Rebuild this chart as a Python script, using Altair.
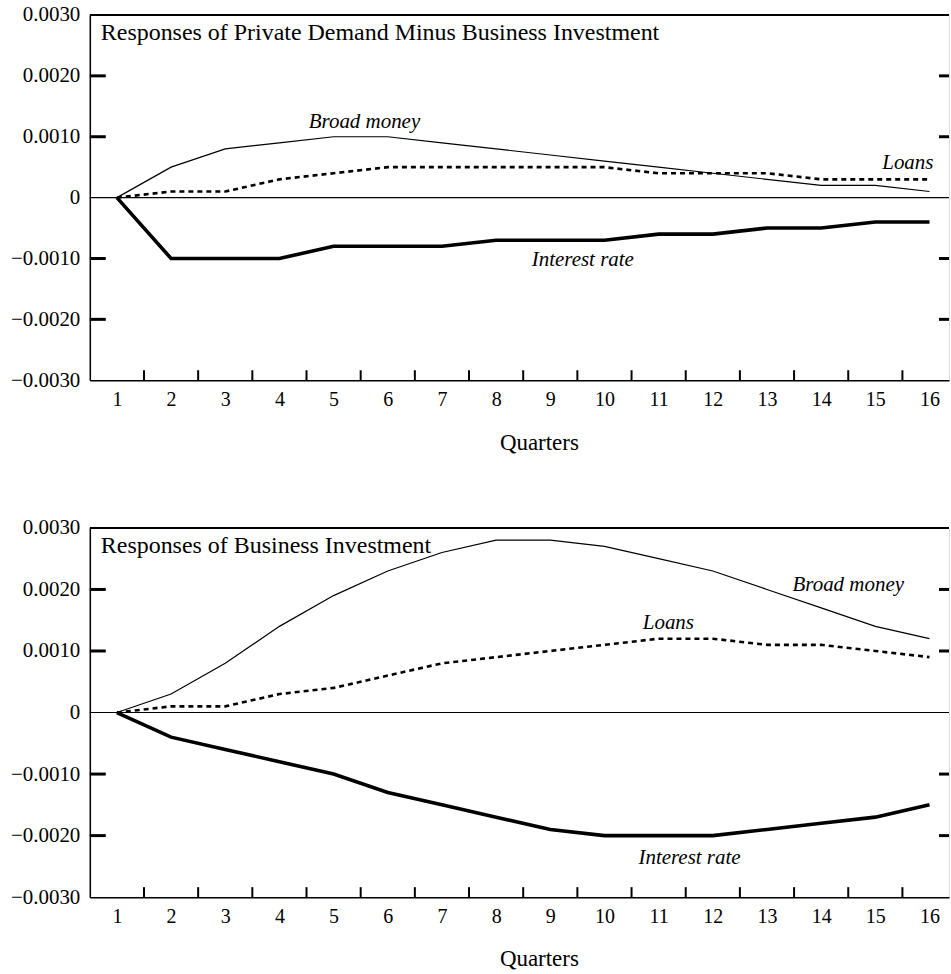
import altair as alt
import pandas as pd

quarters = list(range(1, 17))

# Responses of private demand minus business investment
pd_broad_money = [0.0, 0.0005, 0.0008, 0.0009, 0.0010, 0.0010, 0.0009, 0.0008,
                  0.0007, 0.0006, 0.0005, 0.0004, 0.0003, 0.0002, 0.0002, 0.0001]
pd_loans = [0.0, 0.0001, 0.0001, 0.0003, 0.0004, 0.0005, 0.0005, 0.0005,
            0.0005, 0.0005, 0.0004, 0.0004, 0.0004, 0.0003, 0.0003, 0.0003]
pd_interest = [0.0, -0.0010, -0.0010, -0.0010, -0.0008, -0.0008, -0.0008, -0.0007,
               -0.0007, -0.0007, -0.0006, -0.0006, -0.0005, -0.0005, -0.0004, -0.0004]

# Responses of business investment
bi_broad_money = [0.0, 0.0003, 0.0008, 0.0014, 0.0019, 0.0023, 0.0026, 0.0028,
                  0.0028, 0.0027, 0.0025, 0.0023, 0.0020, 0.0017, 0.0014, 0.0012]
bi_loans = [0.0, 0.0001, 0.0001, 0.0003, 0.0004, 0.0006, 0.0008, 0.0009,
            0.0010, 0.0011, 0.0012, 0.0012, 0.0011, 0.0011, 0.0010, 0.0009]
bi_interest = [0.0, -0.0004, -0.0006, -0.0008, -0.0010, -0.0013, -0.0015, -0.0017,
               -0.0019, -0.0020, -0.0020, -0.0020, -0.0019, -0.0018, -0.0017, -0.0015]

series_names = ["Broad money", "Loans", "Interest rate"]

# Series label placement: (text, quarter, value)
pd_labels = [("Broad money", 5.57, 0.00125), ("Loans", 15.6, 0.00057),
             ("Interest rate", 9.6, -0.00102)]
bi_labels = [("Broad money", 14.5, 0.00208), ("Loans", 11.18, 0.00146),
             ("Interest rate", 11.57, -0.00236)]

y_ticks = [-0.003, -0.002, -0.001, 0.0, 0.001, 0.002, 0.003]
inner_y_ticks = [-0.002, -0.001, 0.001, 0.002]
x_ticks_between = [q + 0.5 for q in quarters[:-1]]

FONT = "Liberation Serif"
W = 861
X_DOMAIN = [0.5, 16.36]
Y_DOMAIN = [-0.003, 0.003]


def panel(title, broad, loans, interest, labels, height):
    frame = pd.DataFrame({
        "quarter": quarters * 3,
        "value": broad + loans + interest,
        "series": [s for s in series_names for _ in quarters],
    })
    x_scale = alt.Scale(domain=X_DOMAIN, nice=False, zero=False)
    y_scale = alt.Scale(domain=Y_DOMAIN, nice=False)

    x_axis = alt.Axis(values=quarters, format="d", ticks=False, grid=False,
                      labelPadding=9, labelFont=FONT, labelFontSize=20,
                      labelColor="black", domainColor="black", domainWidth=1.5,
                      title="Quarters", titleFont=FONT, titleFontSize=23,
                      titleFontWeight="normal", titleColor="black",
                      titlePadding=22, titleX=450)
    y_axis = alt.Axis(values=y_ticks, ticks=False, grid=False, labelPadding=10,
                      labelFont=FONT, labelFontSize=21, labelColor="black",
                      domainColor="black", domainWidth=1.5, title=None,
                      labelExpr="datum.value == 0 ? '0' : replace(format(datum.value, '.4f'), '-', '\u2013')")

    base = alt.Chart(frame)

    def series_line(name, width, dash=None):
        props = dict(color="black", strokeWidth=width, clip=True)
        if dash:
            props["strokeDash"] = dash
        return base.transform_filter(alt.datum.series == name).mark_line(**props).encode(
            x=alt.X("quarter:Q", scale=x_scale, axis=x_axis),
            y=alt.Y("value:Q", scale=y_scale, axis=y_axis),
        )

    zero = alt.Chart(pd.DataFrame({"v": [0.0]})).mark_rule(color="black", strokeWidth=1.2).encode(
        y=alt.Y("v:Q", scale=y_scale), x=alt.value(0), x2=alt.value(W))
    top = alt.Chart(pd.DataFrame({"v": [0.003]})).mark_rule(color="black", strokeWidth=2).encode(
        y=alt.Y("v:Q", scale=y_scale), x=alt.value(0), x2=alt.value(W))

    ytick_df = pd.DataFrame({"v": inner_y_ticks})
    left_ticks = alt.Chart(ytick_df).mark_rule(color="black", strokeWidth=3).encode(
        y=alt.Y("v:Q", scale=y_scale), x=alt.value(0), x2=alt.value(16))
    right_ticks = alt.Chart(ytick_df).mark_rule(color="black", strokeWidth=3).encode(
        y=alt.Y("v:Q", scale=y_scale), x=alt.value(W - 10), x2=alt.value(W))
    x_tick_marks = alt.Chart(pd.DataFrame({"q": x_ticks_between})).mark_rule(
        color="black", strokeWidth=2).encode(
        x=alt.X("q:Q", scale=x_scale), y=alt.value(height), y2=alt.value(height - 10))

    label_df = pd.DataFrame(labels, columns=["text", "quarter", "value"])
    series_text = alt.Chart(label_df).mark_text(
        font=FONT, fontSize=21, fontStyle="italic", color="black").encode(
        x=alt.X("quarter:Q", scale=x_scale), y=alt.Y("value:Q", scale=y_scale), text="text:N")

    heading = alt.Chart(pd.DataFrame({"t": [title]})).mark_text(
        font=FONT, fontSize=24, color="black", align="left", baseline="middle").encode(
        x=alt.value(11), y=alt.value(18), text="t:N")

    return alt.layer(
        zero, top, left_ticks, right_ticks, x_tick_marks,
        series_line("Broad money", 1.2),
        series_line("Loans", 2.6, [5, 4]),
        series_line("Interest rate", 3.6),
        series_text, heading,
    ).properties(width=W, height=height)


upper = panel("Responses of Private Demand Minus Business Investment",
              pd_broad_money, pd_loans, pd_interest, pd_labels, 366)
lower = panel("Responses of Business Investment",
              bi_broad_money, bi_loans, bi_interest, bi_labels, 370)

chart = alt.vconcat(upper, lower, spacing=61).properties(
    padding={"left": 9, "top": 2, "right": 0, "bottom": 0}
).configure_view(stroke=None).configure(background="white")

chart.save("out.html", embed_options={"renderer": "svg", "actions": False})
